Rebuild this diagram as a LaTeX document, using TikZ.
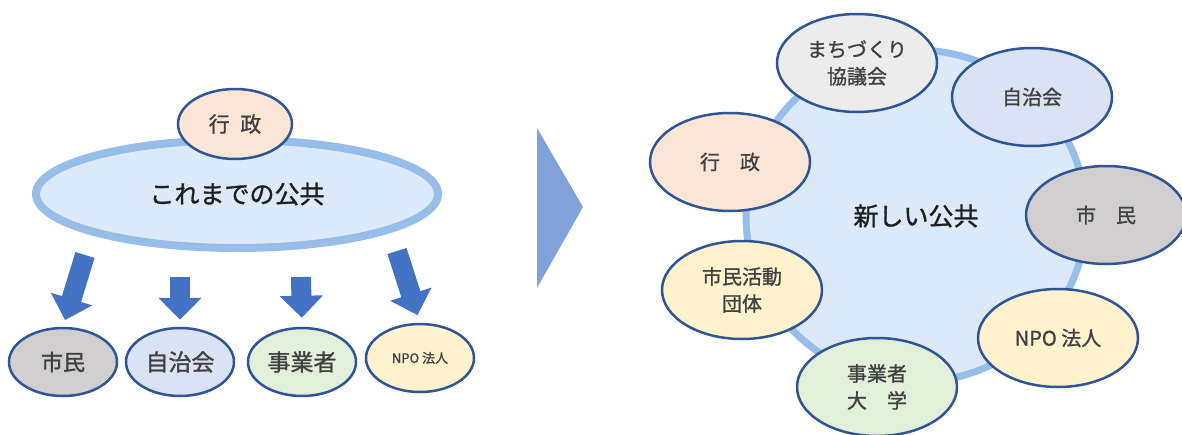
\documentclass[tikz,border=0pt]{standalone}
\usepackage{fontspec}
\setmainfont{Noto Sans CJK JP}[FakeBold=1.2]
\usetikzlibrary{shapes.geometric,arrows.meta}
\definecolor{edgec}{RGB}{47,85,151}
\definecolor{ringc}{RGB}{150,190,232}
\definecolor{bigfill}{RGB}{220,233,248}
\definecolor{arrowc}{RGB}{68,114,196}
\definecolor{tric}{RGB}{130,163,218}
\definecolor{txtc}{RGB}{64,64,64}
\definecolor{darktxt}{RGB}{30,30,30}
\definecolor{fgyo}{RGB}{251,229,214}
\definecolor{fshi}{RGB}{208,206,206}
\definecolor{fjic}{RGB}{218,227,243}
\definecolor{fjig}{RGB}{226,240,217}
\definecolor{fyel}{RGB}{255,242,204}
\definecolor{fmac}{RGB}{236,236,236}
\begin{document}
\begin{tikzpicture}[x=1pt,y=-1pt,
  blob/.style={ellipse, draw=edgec, line width=2.5pt, inner sep=0pt, align=center, text=txtc},
  smallblob/.style={blob, minimum width=108pt, minimum height=68pt},
  rblob/.style={blob, minimum width=160pt, minimum height=98pt, font=\fontsize{20pt}{27pt}\selectfont},
  bigring/.style={ellipse, fill=bigfill, draw=ringc, inner sep=0pt, text=darktxt},
  fat/.style={draw=arrowc, line width=20pt, -{Triangle[width=42pt,length=22pt]}}]
\useasboundingbox (0,0) rectangle (1182,434);
\fill[white] (0,0) rectangle (1182,434);
% ---------- left ----------
\node[bigring, line width=8pt, minimum width=402pt, minimum height=108pt,
      font=\fontsize{25pt}{30pt}\selectfont] (old) at (237,194) {これまでの公共};
\node[blob, fill=fgyo, minimum width=114pt, minimum height=70pt,
      font=\fontsize{21pt}{26pt}\selectfont] (gyo1) at (235,124) {行\hspace{0.5em}政};
\node[smallblob, fill=fshi, font=\fontsize{22pt}{26pt}\selectfont] (shi1) at (63,362) {市民};
\node[smallblob, fill=fjic, font=\fontsize{23pt}{26pt}\selectfont] (jic1) at (180,362) {自治会};
\node[smallblob, fill=fjig, font=\fontsize{23pt}{26pt}\selectfont] (jig1) at (302,362) {事業者};
\node[smallblob, fill=fyel, font=\fontsize{13pt}{16pt}\selectfont] (npo1) at (420,358) {NPO 法人};
\coordinate (s1) at (85,255);
\coordinate (s2) at (180,277);
\coordinate (s3) at (301,277);
\coordinate (s4) at (397,251);
\draw[fat, shorten >=7pt] (s1) -- (shi1.north);
\draw[fat, shorten >=7pt] (s2) -- (jic1.north);
\draw[fat, shorten >=9pt] (s3) -- (jig1.north);
\draw[fat, shorten >=8pt] (s4) -- (npo1.north);
% ---------- middle ----------
\fill[tric] (537,128) -- (583,207) -- (537,288) -- cycle;
% ---------- right ----------
\node[bigring, line width=7pt, minimum width=340pt, minimum height=332pt,
      font=\fontsize{25pt}{30pt}\selectfont] (newp) at (916,216) {新しい公共};
\node[rblob, fill=fmac] (mac) at (857,63) {まちづくり\\協議会};
\node[rblob, fill=fjic] (jic2) at (1032,97) {自治会};
\node[rblob, fill=fgyo] (gyo2) at (730,162) {行　政};
\node[rblob, fill=fshi] (shi2) at (1106,215) {市　民};
\node[rblob, fill=fyel] (kat2) at (742,290) {市民活動\\団体};
\node[rblob, fill=fyel] (npo2) at (1058,338) {NPO 法人};
\node[rblob, fill=fjig] (jig2) at (877,387) {事業者\\大　学};
\end{tikzpicture}
\end{document}
